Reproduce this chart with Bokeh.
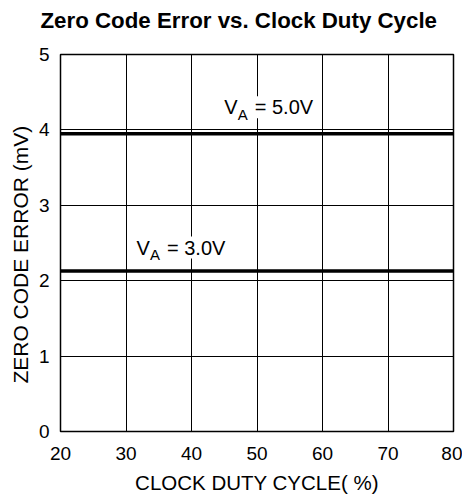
from bokeh.plotting import figure
from bokeh.models import Label, Range1d, FixedTicker, Title
from bokeh.embed import file_html
from bokeh.resources import INLINE

# ---- data ----
duty_cycle = [20, 30, 40, 50, 60, 70, 80]
err_va5 = [3.95, 3.95, 3.95, 3.95, 3.95, 3.95, 3.95]
err_va3 = [2.13, 2.13, 2.13, 2.13, 2.13, 2.13, 2.13]
x_ticks = [20, 30, 40, 50, 60, 70, 80]
y_ticks = [0, 1, 2, 3, 4, 5]
title_text = "Zero Code Error vs. Clock Duty Cycle"
x_label = "CLOCK DUTY CYCLE( %)"
y_label = "ZERO CODE ERROR (mV)"

FONT = "Liberation Sans"

p = figure(width=462, height=496, output_backend="svg", toolbar_location=None,
           x_range=Range1d(20, 80), y_range=Range1d(0, 5),
           min_border_left=60, min_border_right=9, min_border_top=54, min_border_bottom=63)

# spacer panel next to the frame, then the real title above it
p.add_layout(Title(text="\u00a0", text_font_size="10px", standoff=9, text_font=FONT), "above")
p.add_layout(Title(text=title_text, align="left", offset=-20, standoff=0,
                   text_font=FONT, text_font_size="22.3px", text_font_style="bold",
                   text_color="black"), "above")

p.outline_line_color = "black"
p.outline_line_width = 1.5
p.background_fill_color = "white"
p.border_fill_color = "white"

for ax in (p.xaxis[0], p.yaxis[0]):
    ax.axis_line_color = None
    ax.major_tick_line_color = None
    ax.minor_tick_line_color = None
    ax.major_label_text_font = FONT
    ax.major_label_text_font_size = "19px"
    ax.major_label_text_color = "black"
    ax.axis_label_text_font = FONT
    ax.axis_label_text_font_style = "normal"
    ax.axis_label_text_color = "black"

p.xaxis.axis_label_text_font_size = "20.5px"
p.yaxis.axis_label_text_font_size = "21px"
p.xaxis.ticker = FixedTicker(ticks=x_ticks)
p.yaxis.ticker = FixedTicker(ticks=y_ticks)
p.xaxis.axis_label = x_label
p.yaxis.axis_label = y_label + "\u00a0" * 4
p.xaxis.major_label_standoff = 9
p.yaxis.major_label_standoff = 5
p.xaxis.axis_label_standoff = 8
p.yaxis.axis_label_standoff = 4

p.xgrid.ticker = FixedTicker(ticks=x_ticks)
p.ygrid.ticker = FixedTicker(ticks=y_ticks)
for g in (p.xgrid[0], p.ygrid[0]):
    g.grid_line_color = "black"
    g.grid_line_width = 1
    g.grid_line_alpha = 1

p.line(duty_cycle, err_va5, line_color="black", line_width=3.5)
p.line(duty_cycle, err_va3, line_color="black", line_width=3.5)

def va_label(x, y, rest):
    kw = dict(text_font=FONT, text_color="black", text_baseline="alphabetic",
              background_fill_color="white", background_fill_alpha=1.0)
    p.add_layout(Label(x=x, y=y, text="V", text_font_size="20px", **kw))
    p.add_layout(Label(x=x, y=y, x_offset=13.5, y_offset=-7, text="A", text_font_size="15px", **kw))
    p.add_layout(Label(x=x, y=y, x_offset=30.5, text=rest, text_font_size="20px", **kw))

va_label(45.0, 4.30, "= 5.0V")
va_label(31.6, 2.44, "= 3.0V")

open("out.html", "w").write(file_html(p, INLINE))
